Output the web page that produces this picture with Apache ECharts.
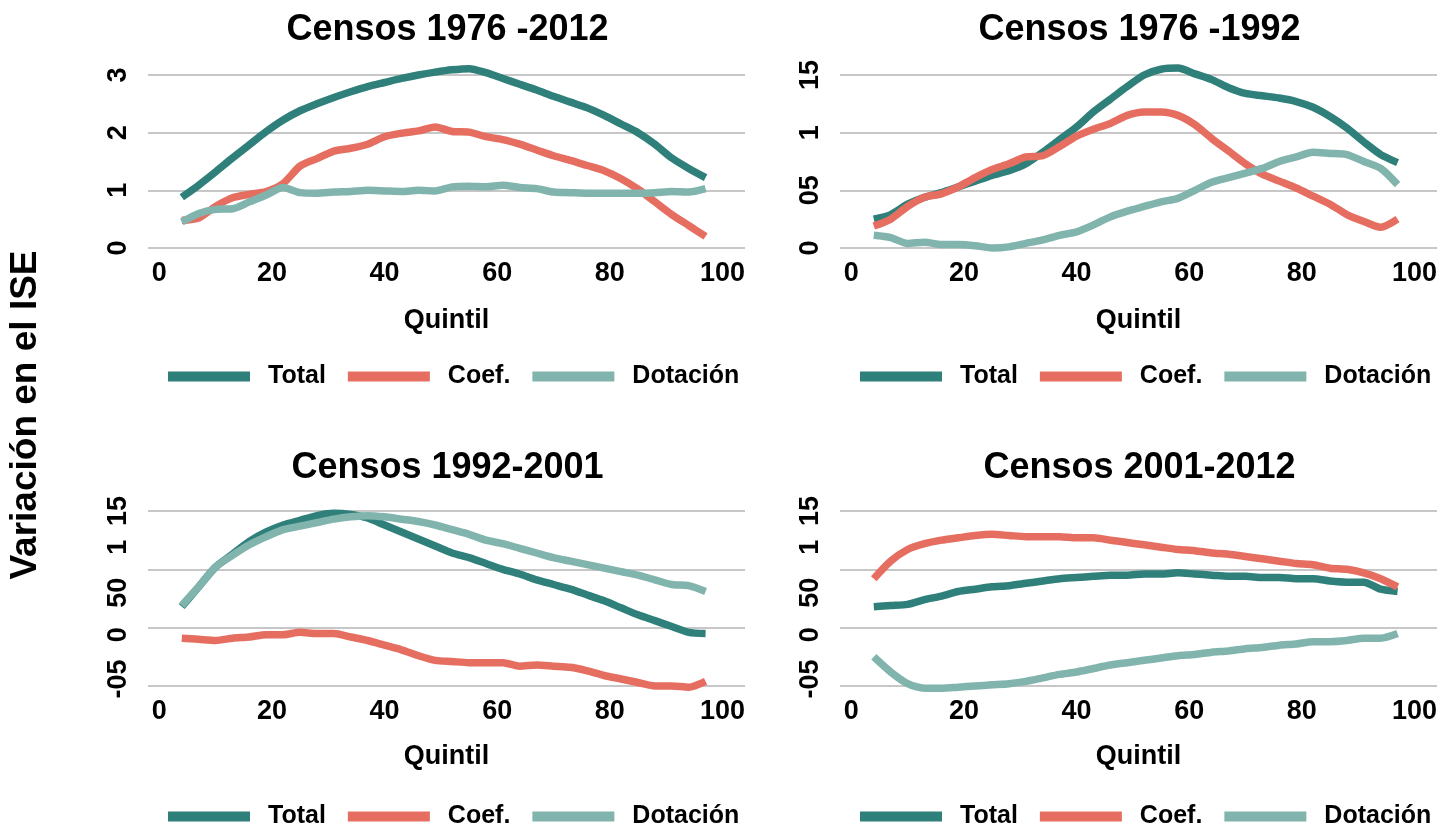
<!DOCTYPE html>
<html><head><meta charset="utf-8">
<script src="https://cdn.jsdelivr.net/npm/echarts@6/dist/echarts.min.js"></script>
<style>html,body{margin:0;padding:0;background:#fff}#c{width:1453px;height:826px}</style>
</head><body><div id="c"></div>
<script>
const quintil = [4,7,10,13,16,19,22,25,28,31,34,37,40,43,46,49,52,55,58,61,64,67,70,73,76,79,82,85,88,91,94,97];
const seriesNames = ['Total','Coef.','Dotación'];
const titles = ['Censos 1976 -2012','Censos 1976 -1992','Censos 1992-2001','Censos 2001-2012'];
const xTickValues = [0,20,40,60,80,100];
const yTicks1 = ['0','1','2','3'];
const yTicks2 = ['0','05','1','15'];
const yTicks34 = ['-05','0','50','1','15'];

const p1Total = [0.88,1.09,1.32,1.56,1.79,2.02,2.22,2.38,2.5,2.61,2.71,2.8,2.87,2.94,3.0,3.05,3.09,3.11,3.04,2.94,2.84,2.74,2.63,2.53,2.43,2.3,2.15,2.0,1.8,1.56,1.38,1.22];
const p1Coef  = [0.48,0.52,0.72,0.87,0.93,0.98,1.12,1.42,1.55,1.68,1.73,1.8,1.93,1.99,2.03,2.1,2.02,2.01,1.93,1.88,1.8,1.7,1.6,1.52,1.43,1.34,1.2,1.02,0.8,0.58,0.39,0.2];
const p1Dot   = [0.45,0.6,0.67,0.68,0.8,0.92,1.05,0.96,0.95,0.97,0.98,1.0,0.99,0.98,1.0,0.99,1.06,1.07,1.06,1.09,1.05,1.03,0.97,0.96,0.95,0.95,0.95,0.95,0.96,0.98,0.97,1.03];

const p2Total = [0.25,0.29,0.38,0.44,0.48,0.53,0.58,0.63,0.67,0.73,0.83,0.94,1.05,1.18,1.29,1.40,1.50,1.55,1.56,1.51,1.46,1.39,1.34,1.32,1.30,1.27,1.22,1.14,1.04,0.92,0.81,0.74];
const p2Coef  = [0.19,0.25,0.36,0.44,0.47,0.53,0.61,0.68,0.73,0.79,0.80,0.88,0.97,1.03,1.08,1.15,1.18,1.18,1.15,1.07,0.95,0.84,0.73,0.64,0.58,0.52,0.45,0.38,0.29,0.23,0.18,0.25];
const p2Dot   = [0.11,0.09,0.04,0.05,0.03,0.03,0.02,0.0,0.01,0.04,0.07,0.11,0.14,0.2,0.27,0.32,0.36,0.4,0.43,0.5,0.57,0.61,0.65,0.69,0.75,0.79,0.83,0.82,0.81,0.75,0.69,0.55];

const p3Total = [0.18,0.35,0.52,0.63,0.74,0.82,0.88,0.92,0.96,0.98,0.97,0.94,0.88,0.82,0.76,0.70,0.64,0.60,0.55,0.50,0.46,0.41,0.37,0.33,0.28,0.23,0.17,0.11,0.06,0.01,-0.04,-0.05];
const p3Coef  = [-0.09,-0.1,-0.11,-0.09,-0.08,-0.06,-0.06,-0.04,-0.05,-0.05,-0.08,-0.11,-0.15,-0.19,-0.24,-0.28,-0.29,-0.30,-0.30,-0.30,-0.33,-0.32,-0.33,-0.34,-0.37,-0.41,-0.44,-0.47,-0.5,-0.5,-0.51,-0.46];
const p3Dot   = [0.19,0.35,0.52,0.62,0.71,0.78,0.84,0.87,0.90,0.93,0.95,0.96,0.95,0.93,0.91,0.88,0.84,0.80,0.75,0.72,0.68,0.64,0.60,0.57,0.54,0.51,0.48,0.45,0.41,0.37,0.36,0.31];

const p4Total = [0.18,0.19,0.2,0.24,0.27,0.31,0.33,0.35,0.36,0.38,0.40,0.42,0.43,0.44,0.45,0.45,0.46,0.46,0.47,0.46,0.45,0.44,0.44,0.43,0.43,0.42,0.42,0.4,0.39,0.39,0.33,0.31];
const p4Coef  = [0.42,0.57,0.67,0.72,0.75,0.77,0.79,0.80,0.79,0.78,0.78,0.78,0.77,0.77,0.75,0.73,0.71,0.69,0.67,0.66,0.64,0.63,0.61,0.59,0.57,0.55,0.54,0.51,0.5,0.47,0.42,0.35];
const p4Dot   = [-0.25,-0.38,-0.48,-0.52,-0.52,-0.51,-0.5,-0.49,-0.48,-0.46,-0.43,-0.4,-0.38,-0.35,-0.32,-0.30,-0.28,-0.26,-0.24,-0.23,-0.21,-0.2,-0.18,-0.17,-0.15,-0.14,-0.12,-0.12,-0.11,-0.09,-0.09,-0.05];

const panels = [[p1Total,p1Coef,p1Dot],[p2Total,p2Coef,p2Dot],[p3Total,p3Coef,p3Dot],[p4Total,p4Coef,p4Dot]];
const colors = ['#2f807b','#e66e60','#82b4ae'];
const FONT = 'Liberation Sans, Arial, sans-serif';

const gridPos = [
  {left:148, top:75, width:597, height:173},
  {left:840, top:75, width:597, height:173},
  {left:148, top:511, width:597, height:175},
  {left:840, top:511, width:597, height:175}
];
const labelPos34 = [-0.44,-0.06,0.30,0.69,1.0];

const grid = gridPos.map(g => Object.assign({containLabel:false}, g));
const xAxis = gridPos.map((g,i) => ({
  type:'value', gridIndex:i, min:-2, max:104,
  axisLine:{show:false}, axisTick:{show:false}, splitLine:{show:false},
  axisLabel:{customValues:xTickValues, margin:12, color:'#000', fontSize:27, fontWeight:'bold', fontFamily:FONT},
  name:'Quintil', nameLocation:'middle', nameGap: i<2 ? 59 : 57,
  nameTextStyle:{color:'#000', fontSize:27, fontWeight:'bold', fontFamily:FONT}
}));
const yAxis = gridPos.map((g,i) => {
  const base = {
    type:'value', gridIndex:i,
    axisLine:{show:false}, axisTick:{show:false},
    splitLine:{show:true, lineStyle:{color:'#b4b4b4', width:1.5}},
    axisLabel:{rotate:90, margin:16, color:'#000', fontSize:27, fontWeight:'bold', fontFamily:FONT}
  };
  if (i === 0) { base.min=0; base.max=3; base.interval=1; base.axisLabel.formatter = v => yTicks1[Math.round(v)]; }
  else if (i === 1) { base.min=0; base.max=1.5; base.interval=0.5; base.axisLabel.formatter = v => yTicks2[Math.round(v*2)]; }
  else {
    base.min=-0.6; base.max=1; base.interval=0.5;
    base.min=-0.5;
    base.axisLabel.customValues = labelPos34;
    base.axisLabel.formatter = v => { const k = labelPos34.indexOf(v); return k >= 0 ? yTicks34[k] : ''; };
  }
  return base;
});

const series = [];
panels.forEach((arrs,pi) => {
  arrs.forEach((vals,si) => {
    series.push({
      name: seriesNames[si], type:'line', xAxisIndex:pi, yAxisIndex:pi,
      data: quintil.map((q,k) => [q, vals[k]]),
      showSymbol:false, smooth:0.25, silent:true, clip:false,
      lineStyle:{color:colors[si], width:7.5, cap:'butt', join:'round'},
      itemStyle:{color:colors[si]}, z: 2+si
    });
  });
});

const title = titles.map((t,i) => ({
  text:t, left: gridPos[i].left + gridPos[i].width/2 - 4, top: i<2 ? 7 : 445, textAlign:'center',
  textStyle:{color:'#000', fontSize:36, fontWeight:'bold', fontFamily:FONT}
}));

const legend = gridPos.map((g,i) => ({
  data: seriesNames, left: g.left + 15, top: i<2 ? 359 : 799, orient:'horizontal',
  icon:'rect', itemWidth:82, itemHeight:10, itemGap:22, selectedMode:false,
  textStyle:{color:'#000', fontSize:25, fontWeight:'bold', fontFamily:FONT, padding:[0,0,0,13]}
}));

const chart = echarts.init(document.getElementById('c'), null, {renderer:'canvas'});
chart.setOption({
  backgroundColor:'#fff', animation:false,
  title, legend, grid, xAxis, yAxis, series,
  graphic:[{
    type:'text', x:26, y:415, rotation:Math.PI/2,
    style:{text:'Variación en el ISE', fill:'#000', font:'bold 37px '+FONT, textAlign:'center', textVerticalAlign:'middle'}
  }]
});
</script></body></html>
